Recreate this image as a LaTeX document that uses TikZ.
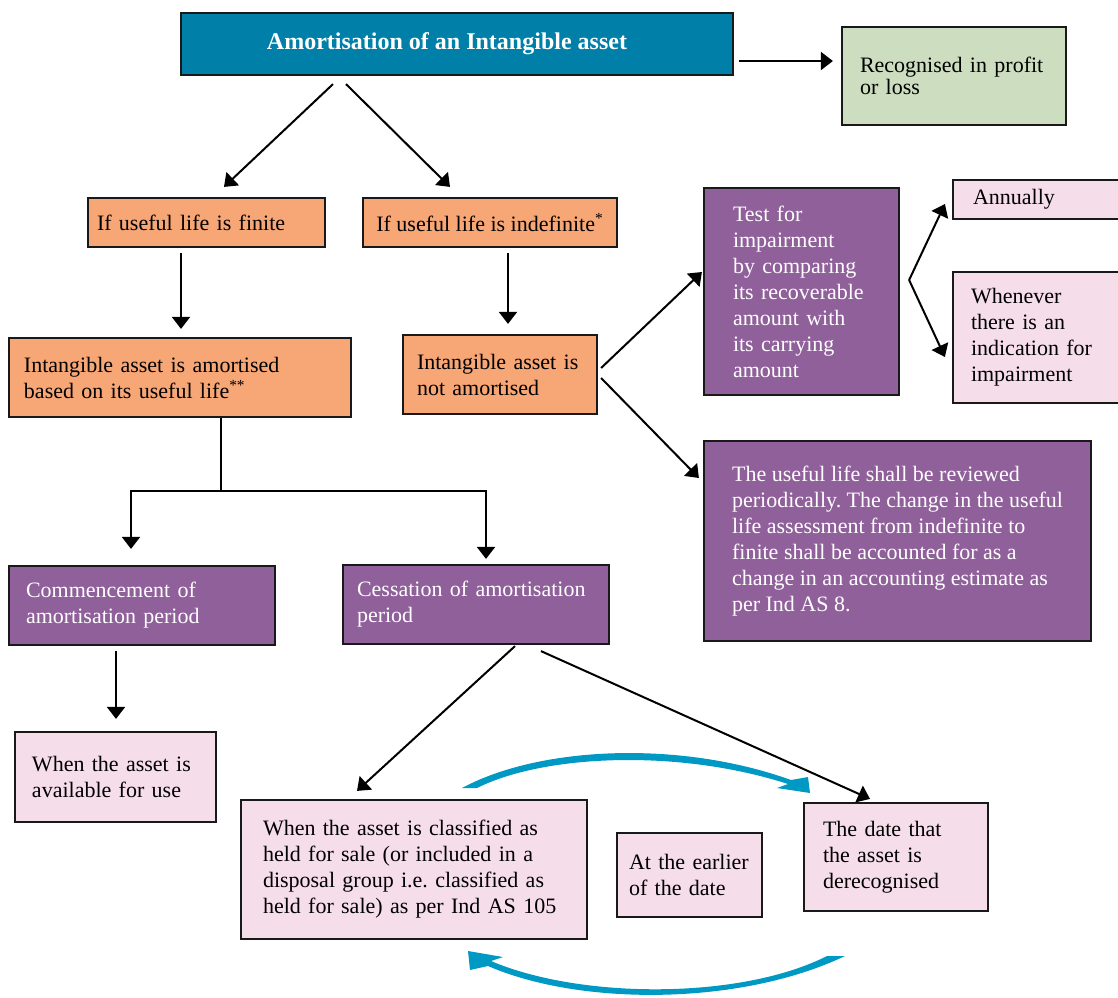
\documentclass[tikz,border=0pt]{standalone}
\usepackage{fontspec}
\setmainfont{Liberation Serif}
\frenchspacing
\usetikzlibrary{arrows.meta,calc}
\definecolor{headteal}{RGB}{0,128,168}
\definecolor{boxgreen}{RGB}{205,221,191}
\definecolor{boxorange}{RGB}{247,166,117}
\definecolor{boxpurple}{RGB}{143,96,153}
\definecolor{boxpink}{RGB}{246,221,234}
\definecolor{arcblue}{RGB}{0,153,196}
\begin{document}
\begin{tikzpicture}[x=0.5pt,y=-0.5pt,
  box/.style={draw=black!90,line width=1.1pt,rectangle,align=left,inner ysep=2pt,
    font=\fontsize{11}{13}\selectfont},
  headbox/.style={box,fill=headteal,text=white,align=center,
    font=\fontsize{12}{14}\selectfont\bfseries},
  greenbox/.style={box,fill=boxgreen},
  orangebox/.style={box,fill=boxorange},
  purplebox/.style={box,fill=boxpurple,text=white},
  pinkbox/.style={box,fill=boxpink},
  arr/.style={-{Triangle[length=6pt,width=9pt]},line width=1pt},
  bluearc/.style={fill=arcblue}]
  \useasboundingbox (0,0) rectangle (1118,997);

  % top row
  \node[headbox,minimum width=276pt,minimum height=31pt] (title) at (457,44)
    {\raisebox{-1.5pt}{Amortisation of an Intangible asset}\hspace{10pt}};
  \node[greenbox,text width=94pt,inner xsep=9pt,minimum height=49pt,
    font=\fontsize{11}{11}\selectfont] (profit) at (954,76)
    {Recognised in profit\\or loss};

  % useful life
  \node[orangebox,text width=109.5pt,inner xsep=4.5pt,minimum height=24.5pt] (finite) at (206.5,222.5)
    {If useful life is finite};
  \node[orangebox,minimum width=127pt,minimum height=24.5pt] (indef) at (490,222.5)
    {If useful life is indefinite\textsuperscript{*}};
  \node[orangebox,text width=156pt,inner xsep=7.5pt,minimum height=39.5pt] (amort) at (180,377.5)
    {Intangible asset is amortised\\based on its useful life\textsuperscript{**}};
  \node[orangebox,text width=83pt,inner xsep=7pt,minimum height=39.5pt] (notam) at (500,374.5)
    {Intangible asset is\\not amortised};

  % indefinite branch
  \node[purplebox,text width=68.5pt,inner xsep=14.5pt,minimum height=103.5pt] (test) at (801.5,291.5)
    {Test for\\impairment\\by comparing\\its recoverable\\amount with\\its carrying\\amount};
  \node[pinkbox,text width=66pt,inner xsep=10pt,minimum height=19.5pt] (annual) at (1039,199.5)
    {Annually};
  \node[pinkbox,text width=68pt,inner xsep=9pt,minimum height=65.5pt] (whenever) at (1039,337.5)
    {Whenever\\there is an\\indication for\\impairment};
  \node[purplebox,minimum width=193.5pt,minimum height=100pt] (review) at (897.5,541)
    {The useful life shall be reviewed\\periodically. The change in the useful\\life assessment from indefinite to\\finite shall be accounted for as a\\change in an accounting estimate as\\per Ind AS 8.};

  % finite branch
  \node[purplebox,text width=116pt,inner xsep=8.5pt,minimum height=39.5pt] (commence) at (142,605.5)
    {Commencement of\\amortisation period};
  \node[purplebox,text width=119pt,inner xsep=7pt,minimum height=39.5pt] (cessation) at (476,604.5)
    {Cessation of amortisation\\period};
  \node[pinkbox,text width=83.5pt,inner xsep=8.5pt,minimum height=45pt] (available) at (115.5,777)
    {When the asset is\\available for use};
  \node[pinkbox,text width=151pt,inner xsep=11pt,minimum height=69.5pt] (classified) at (414,869.5)
    {When the asset is classified as\\held for sale (or included in a\\disposal group i.e. classified as\\held for sale) as per Ind AS 105};
  \node[pinkbox,text width=60.5pt,inner xsep=6pt,minimum height=42pt] (earlier) at (689.5,875)
    {At the earlier\\of the date};
  \node[pinkbox,text width=73pt,inner xsep=9.5pt,minimum height=54pt] (derecog) at (896,857)
    {The date that\\the asset is\\derecognised};

  % arrows
  \draw[arr] ($(title.east)+(5,17)$) -- ($(profit.west)+(-8,-15)$);
  \draw[arr] ($(title.south)+(-124,8)$) -- ($(finite.north)+(17.5,-10)$);
  \draw[arr] ($(title.south)+(-111,8)$) -- ($(indef.north)+(-40,-10)$);
  \draw[arr] ($(finite.south)+(-25.5,5)$) -- ($(amort.north)+(1,-8)$);
  \draw[arr] ($(indef.south)+(18,5)$) -- ($(notam.north)+(8,-10)$);
  \draw[arr] ($(notam.east)+(3,-6.5)$) -- ($(test.west)+(-1,-19.5)$);
  \draw[arr] ($(notam.east)+(3,3.5)$) -- ($(review.west)+(-4,-63)$);

  \coordinate (fork) at ($(test.east)+(9,-11.5)$);
  \draw[arr] (fork) -- ($(annual.west)+(-7,4.5)$);
  \draw[arr] (fork) -- ($(whenever.west)+(-7,19.5)$);

  \coordinate (split) at ($(amort.south)+(41,73)$);
  \draw[line width=1pt] ($(amort.south)+(41,0)$) -- (split);
  \draw[arr] (split) -| ($(commence.north)+(-11,-16)$);
  \draw[arr] (split) -| ($(cessation.north)+(10,-5)$);

  \draw[arr] ($(commence.south)+(-26,5)$) -- ($(available.north)+(0.5,-12)$);
  \draw[arr] ($(cessation.south)+(39,1)$) -- ($(classified.north)+(-57,-8)$);
  \draw[arr] ($(cessation.south)+(65,6)$) -- ($(derecog.north)+(-26,-3)$);

  % blue curved arrows
  \fill[bluearc] (462,788) .. controls (540,746) and (680,740) .. (791,780)
    -- (808,777) -- (810,793) -- (777,788) -- (788,784)
    .. controls (680,749) and (545,754) .. (477,788) -- cycle;
  \fill[bluearc] (845,956) .. controls (740,1006) and (580,1006) .. (488,966)
    -- (470,970) -- (468,951) -- (503,957) -- (491,961)
    .. controls (580,999) and (740,1000) .. (827,956) -- cycle;
\end{tikzpicture}
\end{document}
